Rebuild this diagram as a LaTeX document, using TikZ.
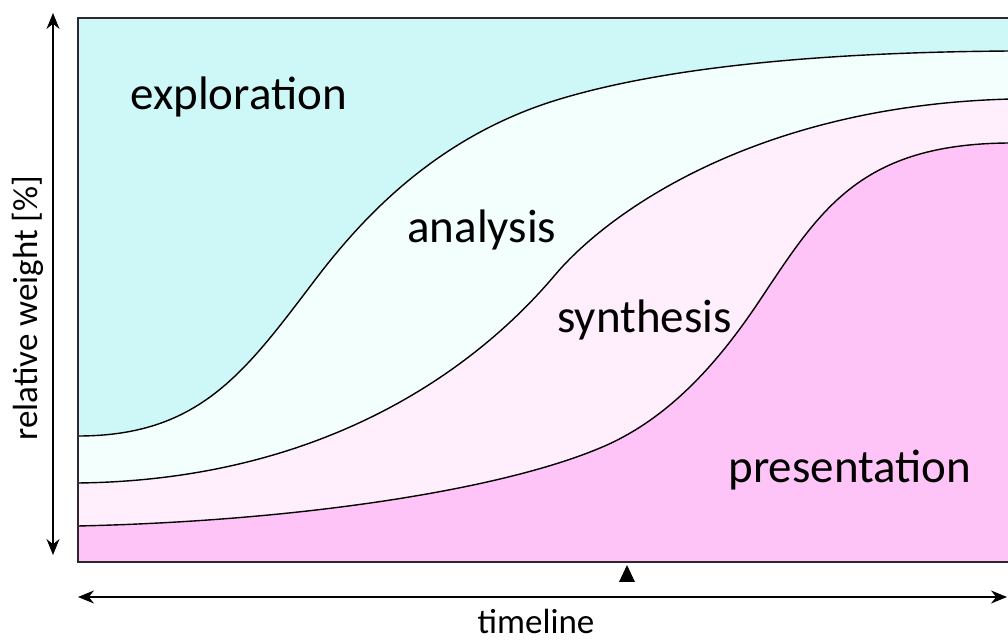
\documentclass[tikz,border=0pt]{standalone}
\usepackage{fontspec}
\setmainfont{Carlito}
\usetikzlibrary{arrows.meta}
\definecolor{explorecol}{RGB}{206,247,248}
\definecolor{analysecol}{RGB}{242,255,252}
\definecolor{synthcol}{RGB}{255,238,251}
\definecolor{presentcol}{RGB}{255,196,247}
\definecolor{framecol}{RGB}{45,40,45}

\begin{document}
\begin{tikzpicture}[x=0.5pt, y=-0.5pt, >={Stealth[length=8pt, width=6.5pt]},
        phase/.style={font=\fontsize{23.5}{28}\selectfont, anchor=base west, inner sep=0pt},
        axislabel/.style={font=\fontsize{17.5}{21}\selectfont, inner sep=0pt},
        boundary/.style={line width=0.7pt, draw=black},
        axisarrow/.style={<->, line width=0.75pt}]
      \useasboundingbox (0,0) rectangle (1008,641);
      % phase areas, from the top down
      \fill[explorecol] (78,18) rectangle (1012,562);
      \filldraw[fill=analysecol, boundary] (78,562) -- (78,436)
            .. controls (200,436) and (245,372) .. (315,280)
            .. controls (365,214) and (440,135) .. (560,99)
            .. controls (680,63) and (850,52) .. (1012,51) -- (1012,562) -- cycle;
      \filldraw[fill=synthcol, boundary] (78,562) -- (78,483)
            .. controls (330,480) and (480,364) .. (555,275)
            .. controls (610,210) and (760,105) .. (1012,99) -- (1012,562) -- cycle;
      \filldraw[fill=presentcol, boundary] (78,562) -- (78,526)
            .. controls (300,521) and (500,490) .. (600,448)
            .. controls (670,419) and (720,360) .. (760,300)
            .. controls (820,210) and (860,143) .. (1012,143) -- (1012,562) -- cycle;
      \draw[line width=1pt, framecol] (78,18) rectangle (1012,562);
      % labels
      \node[phase] (explore) at (130,110) {exploration};
      \node[phase] (analyse) at (407,243) {analysis};
      \node[phase] (synth) at (557,333) {synthesis};
      \node[phase] (present) at (728,483) {presentation};
      % axes
      \coordinate (ytop) at (53,13);
      \coordinate (ybot) at (53,555);
      \coordinate (xleft) at (78,597);
      \coordinate (xright) at (1007,597);
      \draw[axisarrow] (ybot) -- (ytop);
      \draw[axisarrow] (xleft) -- (xright);
      \node[axislabel, rotate=90, anchor=base] (ylabel) at (38,308) {relative weight [\%]};
      \node[axislabel, anchor=base] (xlabel) at (536,634) {timeline};
      \fill (619,582) -- (635,582) -- (627,565) -- cycle;
    \end{tikzpicture}
\end{document}
